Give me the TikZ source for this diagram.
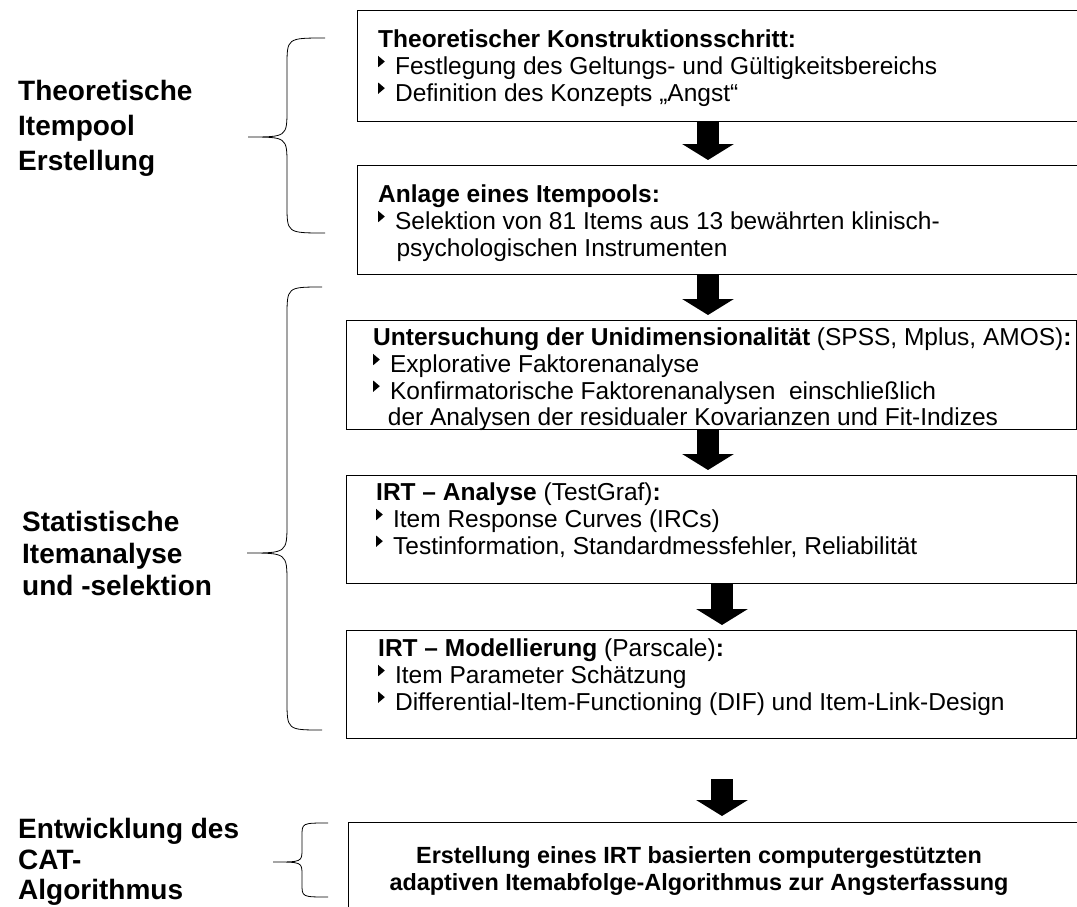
\documentclass[tikz,border=0pt]{standalone}
\usepackage{fontspec}
\setmainfont{Liberation Sans}
\usepackage{tikz}
\usetikzlibrary{arrows.meta}

\newcommand{\bul}{\tikz[baseline=0pt]\fill (0,0.3em) -- (0,0.76em) -- (0.27em,0.53em) -- cycle;\hspace{0.42em}}

\tikzset{
  stepbox/.style={draw, line width=1.1pt, anchor=north west, minimum width=730pt, inner sep=0pt},
  boxtext/.style={anchor=north west, align=left, inner sep=0pt, font=\fontsize{24.5}{26.6}\selectfont},
  phase/.style={anchor=west, align=left, inner sep=0pt, font=\bfseries\fontsize{28}{35}\selectfont},
  bigarrow/.style={line width=22pt, -{Triangle[width=51pt,length=16pt]}}
}

\begin{document}
\begin{tikzpicture}[x=1pt, y=-1pt]
    \useasboundingbox (0,0) rectangle (1077,906);
    \clip (0,0) rectangle (1077,906);
    \coordinate (ax) at (708,0);
    \coordinate (bx) at (722,0);

    % Kaesten
    \node[stepbox, minimum height=111pt] (konstrukt) at (357,10) {};
    \node[stepbox, minimum height=109pt] (pool) at (357,165) {};
    \node[stepbox, minimum height=109pt] (unidim) at (346,320) {};
    \node[stepbox, minimum height=108pt] (irtana) at (346,475) {};
    \node[stepbox, minimum height=108pt] (irtmod) at (346,630) {};
    \node[stepbox, minimum height=110pt] (cat) at (348,822) {};

    % Texte
    \node[boxtext] (konstrukttxt) at (378,30) {\textbf{Theoretischer Konstruktionsschritt:}\\
        \bul Festlegung des Geltungs- und Gültigkeitsbereichs\\
        \bul Definition des Konzepts „Angst“};
    \node[boxtext] (pooltxt) at (378,185) {\textbf{Anlage eines Itempools:}\\
        \bul Selektion von 81 Items aus 13 bewährten klinisch-\\
        \hspace{0.75em}psychologischen Instrumenten};
    \node[boxtext] (unidimtxt) at (373,328) {\textbf{Untersuchung der Unidimensionalität} (SPSS, Mplus, AMOS)\textbf{:}\\
        \bul Explorative Faktorenanalyse\\
        \bul Konfirmatorische Faktorenanalysen\ \ einschließlich\\
        \hspace{0.6em}der Analysen der residualer Kovarianzen und Fit-Indizes};
    \node[boxtext] (irtanatxt) at (376,483) {\textbf{IRT – Analyse} (TestGraf)\textbf{:}\\
        \bul Item Response Curves (IRCs)\\
        \bul Testinformation, Standardmessfehler, Reliabilität};
    \node[boxtext] (irtmodtxt) at (378,639) {\textbf{IRT – Modellierung} (Parscale)\textbf{:}\\
        \bul Item Parameter Schätzung\\
        \bul Differential-Item-Functioning (DIF) und Item-Link-Design};
    \node[boxtext, anchor=center, align=center, font=\bfseries\fontsize{23.4}{27}\selectfont] (cattxt) at (699,871)
        {Erstellung eines IRT basierten computergestützten\\
         adaptiven Itemabfolge-Algorithmus zur Angsterfassung};

    % Pfeile
    \draw[bigarrow] (konstrukt.south -| ax) -- ([yshift=5pt]pool.north -| ax);
    \draw[bigarrow] (pool.south -| ax) -- ([yshift=5pt]unidim.north -| ax);
    \draw[bigarrow] (unidim.south -| ax) -- ([yshift=5pt]irtana.north -| ax);
    \draw[bigarrow] (irtana.south -| bx) -- ([yshift=5pt]irtmod.north -| bx);
    \draw[bigarrow] ([yshift=-40pt]irtmod.south -| bx) -- ([yshift=6pt]cat.north -| bx);

    % Phasen links
    \node[phase] (theorie) at (18,128) {Theoretische\\Itempool\\Erstellung};
    \node[phase, font=\bfseries\fontsize{28}{32}\selectfont] (statistik) at (22,553) {Statistische\\Itemanalyse\\und -selektion};
    \node[phase, font=\bfseries\fontsize{28}{30.5}\selectfont] (entwicklung) at (18,862) {Entwicklung des\\CAT-\\Algorithmus};

    % Klammern
    \draw[line width=0.8pt] (325,38) .. controls (287,38) .. (287,66) -- (287,109)
        .. controls (287,137) .. (248,137) .. controls (287,137) .. (287,165) -- (287,205)
        .. controls (287,233) .. (325,233);
    \draw[line width=0.8pt] (322,287) .. controls (287,287) .. (287,317) -- (287,523)
        .. controls (287,553) .. (247,553) .. controls (287,553) .. (287,583) -- (287,700)
        .. controls (287,730) .. (322,730);
    \draw[line width=0.8pt] (328,823) .. controls (302,823) .. (302,836) -- (302,849)
        .. controls (302,862) .. (273,862) .. controls (302,862) .. (302,875) -- (302,884)
        .. controls (302,897) .. (328,897);
\end{tikzpicture}
\end{document}
